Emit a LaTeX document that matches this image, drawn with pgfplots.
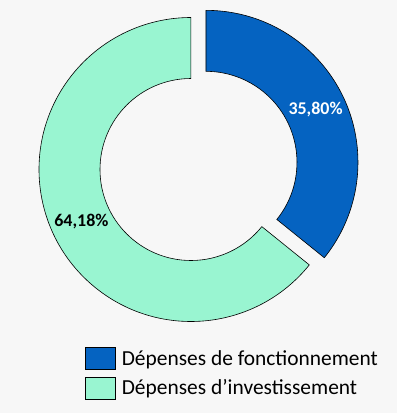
\documentclass[border=0pt]{standalone}
\usepackage{pgfplots}
\pgfplotsset{compat=1.18}
\usepackage{pgfplotstable}
\usepackage{fontspec}
\setmainfont{Carlito}
\definecolor{bgc}{HTML}{F7F7F7}
\definecolor{fonc}{HTML}{0563C1}
\definecolor{inv}{HTML}{99F5D1}
\pgfplotstableread{
name value explode
fonc 35.80 16.6
inv 64.18 0
}\datatable
\pgfplotstablegetelem{0}{value}\of\datatable \let\vA\pgfplotsretval
\pgfplotstablegetelem{1}{value}\of\datatable \let\vB\pgfplotsretval
\pgfplotstablegetelem{0}{explode}\of\datatable \let\dA\pgfplotsretval
\pgfplotstablegetelem{1}{explode}\of\datatable \let\dB\pgfplotsretval
\def\cx{191}\def\cy{243.5}\def\Ro{152}\def\Ri{91}
% slice A
\pgfmathsetmacro\aAs{90}
\pgfmathsetmacro\aAe{90-\vA*3.6}
\pgfmathsetmacro\aAm{(\aAs+\aAe)/2}
\pgfmathsetmacro\cAx{\cx+\dA*cos(\aAm)}
\pgfmathsetmacro\cAy{\cy+\dA*sin(\aAm)}
\pgfmathsetmacro\oAx{\cAx+\Ro*cos(\aAs)}
\pgfmathsetmacro\oAy{\cAy+\Ro*sin(\aAs)}
\pgfmathsetmacro\iAx{\cAx+\Ri*cos(\aAe)}
\pgfmathsetmacro\iAy{\cAy+\Ri*sin(\aAe)}
\pgfmathsetmacro\lAx{\cAx+(\Ro+\Ri)/2*cos(\aAm)}
\pgfmathsetmacro\lAy{\cAy+(\Ro+\Ri)/2*sin(\aAm)}
% slice B
\pgfmathsetmacro\aBs{\aAe}
\pgfmathsetmacro\aBe{\aAe-\vB*3.6}
\pgfmathsetmacro\aBm{(\aBs+\aBe)/2}
\pgfmathsetmacro\cBx{\cx+\dB*cos(\aBm)}
\pgfmathsetmacro\cBy{\cy+\dB*sin(\aBm)}
\pgfmathsetmacro\oBx{\cBx+\Ro*cos(\aBs)}
\pgfmathsetmacro\oBy{\cBy+\Ro*sin(\aBs)}
\pgfmathsetmacro\iBx{\cBx+\Ri*cos(\aBe)}
\pgfmathsetmacro\iBy{\cBy+\Ri*sin(\aBe)}
\pgfmathsetmacro\lBx{\cBx+(\Ro+\Ri)/2*cos(\aBm)}
\pgfmathsetmacro\lBy{\cBy+(\Ro+\Ri)/2*sin(\aBm)}
\begin{document}
\begin{tikzpicture}
\begin{axis}[x=1bp, y=1bp, xmin=0, xmax=397, ymin=0, ymax=413,
  hide axis, scale only axis, clip=false,
  legend image code/.code={\draw[#1] (0bp,-11bp) rectangle (30bp,11bp);},
  legend cell align=left,
  legend style={at={(axis cs:85,66)}, anchor=north west, draw=none, fill=none,
    inner sep=0pt, font=\fontsize{21.5}{25}\selectfont, row sep=7bp,
    /tikz/every odd column/.append style={column sep=4bp}},
]
\fill[bgc] (axis cs:0,0) rectangle (axis cs:397,413);
\filldraw[fill=fonc, draw=black, line width=0.6bp] (axis cs:\oAx,\oAy)
  arc[start angle=\aAs, end angle=\aAe, radius=\Ro bp] -- (axis cs:\iAx,\iAy)
  arc[start angle=\aAe, end angle=\aAs, radius=\Ri bp] -- cycle;
\filldraw[fill=inv, draw=black, line width=0.6bp] (axis cs:\oBx,\oBy)
  arc[start angle=\aBs, end angle=\aBe, radius=\Ro bp] -- (axis cs:\iBx,\iBy)
  arc[start angle=\aBe, end angle=\aBs, radius=\Ri bp] -- cycle;
\node[font=\bfseries\fontsize{18}{20}\selectfont, text=white] at (axis cs:\lAx,\lAy) {35,80\%};
\node[font=\bfseries\fontsize{18}{20}\selectfont, text=black] at (axis cs:\lBx,\lBy) {64,18\%};
\addlegendimage{fill=fonc, draw=black, line width=0.6bp}
\addlegendentry{Dépenses de fonctionnement}
\addlegendimage{fill=inv, draw=black, line width=0.6bp}
\addlegendentry{Dépenses d’investissement}
\end{axis}
\end{tikzpicture}
\end{document}
